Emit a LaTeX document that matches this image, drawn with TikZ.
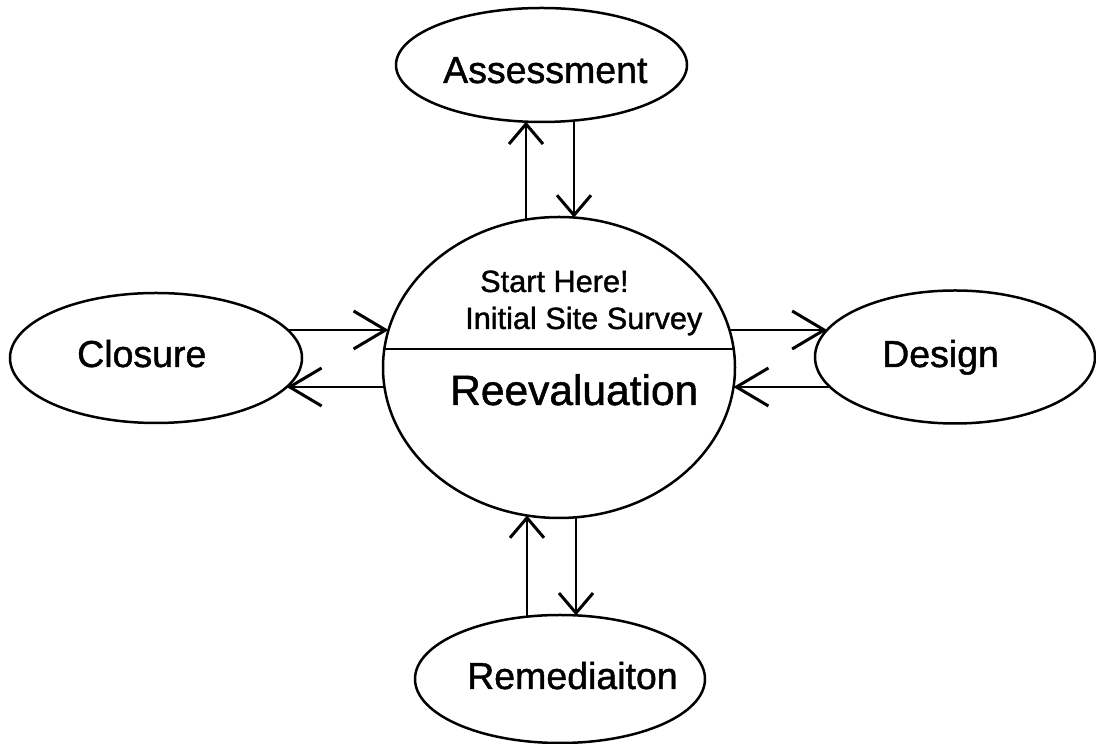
\documentclass[tikz,border=0pt]{standalone}
\usepackage{fontspec}
\setmainfont{Liberation Sans}
\newfontfamily\scanfont{Liberation Sans}[FakeBold=1.2]
\usetikzlibrary{arrows.meta,shapes.geometric,calc}
\begin{document}
\begin{tikzpicture}[x=1pt,y=1pt,
  oval/.style={draw=black,ellipse,line width=2.5pt,inner sep=0pt,outer sep=0pt},
  lbl/.style={anchor=base west,inner sep=0pt,font=\scanfont\fontsize{37.5}{44}\selectfont},
  small/.style={anchor=base west,inner sep=0pt,font=\scanfont\fontsize{30.7}{36}\selectfont},
  big/.style={anchor=base west,inner sep=0pt,font=\scanfont\fontsize{42.5}{50}\selectfont},
  varr/.style={line width=1.8pt,-{Straight Barb[length=20pt,width=34pt,line width=3pt]}},
  harr/.style={line width=1.8pt,-{Straight Barb[length=32pt,width=38pt,line width=3pt]}}]
\useasboundingbox[fill=white] (0,0) rectangle (1096,744);
% shapes
\node[oval,minimum width=352pt,minimum height=301pt] (c) at (559,376.5) {};
\node[oval,minimum width=291pt,minimum height=114pt] (a) at (541.5,679) {};
\node[oval,minimum width=292pt,minimum height=130pt] (cl) at (156,386) {};
\node[oval,minimum width=280pt,minimum height=133pt] (d) at (955,387) {};
\node[oval,minimum width=290pt,minimum height=128pt] (r) at (560,65) {};
% divider
\draw[line width=2pt] ($(c.center)+(-174.7,18.5)$) -- ($(c.center)+(174.7,18.5)$);
% texts
\node[lbl] (ta) at (443,661) {Assessment};
\node[lbl] (tcl) at (77,377) {Closure};
\node[lbl] (td) at (882,377) {Design};
\node[lbl] (tr) at (467,55) {Remediaiton};
\node[small] (t1) at (480,452) {Start Here!};
\node[small] (t2) at (465,415) {Initial Site Survey};
\node[big] (t3) at (450,339) {Reevaluation};
% connectors
\draw[varr] ($(c.center)+(-33,147.8)$) -- ($(a.center)+(-15.5,-56.7)$);
\draw[varr] ($(a.center)+(32.5,-55.6)$) -- ($(c.center)+(15,149.95)$);
\draw[harr] ($(cl.center)+(131.8,28)$) -- ($(c.center)+(-170.5,37.5)$);
\draw[harr] ($(c.center)+(-174.5,-19.5)$) -- ($(cl.center)+(130.7,-29)$);
\draw[harr] ($(c.center)+(170.5,37.5)$) -- ($(d.center)+(-127.9,27)$);
\draw[harr] ($(d.center)+(-124.9,-30)$) -- ($(c.center)+(174.5,-19.5)$);
\draw[varr] ($(r.center)+(-33,62.3)$) -- ($(c.center)+(-32,-148)$);
\draw[varr] ($(c.center)+(17,-149.8)$) -- ($(r.center)+(16,63.6)$);
\end{tikzpicture}
\end{document}
